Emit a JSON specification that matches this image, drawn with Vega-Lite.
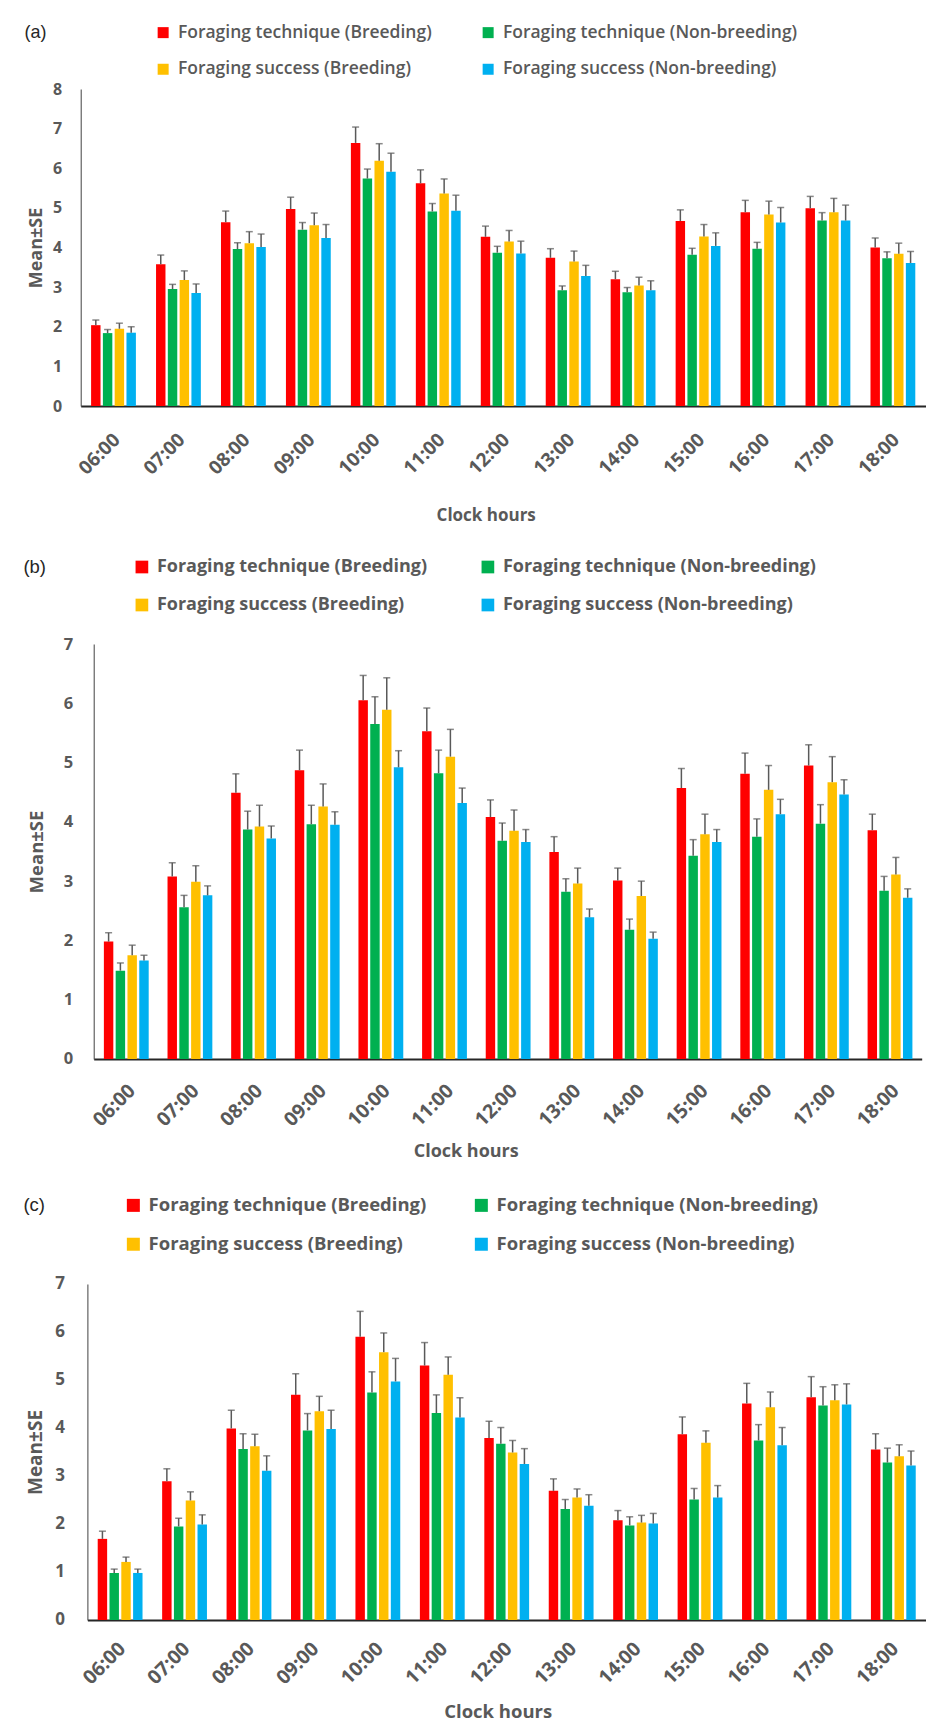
{
  "$schema": "https://vega.github.io/schema/vega-lite/v6.json",
  "background": "white",
  "padding": {"left": 22.7, "top": 23, "right": 0, "bottom": 0},
  "config": {
    "font": "Open Sans",
    "view": {"stroke": null},
    "axis": {"grid": false, "ticks": false, "labelColor": "#595959", "titleColor": "#595959", "labelFontWeight": "bold", "titleFontWeight": "bold", "labelOverlap": false},
    "axisX": {"domainColor": "#262626", "domainWidth": 1.8, "labelAngle": -45},
    "axisY": {"domainColor": "#404040", "domainWidth": 1},
    "legend": {"orient": "none", "columns": 2, "direction": "horizontal", "titleOrient": "left", "titleAnchor": "start", "titleBaseline": "top", "titleFont": "Liberation Sans", "titleFontWeight": "normal", "titleColor": "#262626", "labelColor": "#595959", "labelOffset": 6, "symbolType": "square", "symbolStrokeWidth": 0, "labelLimit": 500, "padding": 0}
  },
  "datasets": {
    "a": [
      {"hour":"06:00","series":"Foraging technique (Breeding)","mean":2.04,"upper":2.17},
      {"hour":"06:00","series":"Foraging technique (Non-breeding)","mean":1.84,"upper":1.93},
      {"hour":"06:00","series":"Foraging success (Breeding)","mean":1.95,"upper":2.09},
      {"hour":"06:00","series":"Foraging success (Non-breeding)","mean":1.85,"upper":2.00},
      {"hour":"07:00","series":"Foraging technique (Breeding)","mean":3.58,"upper":3.81},
      {"hour":"07:00","series":"Foraging technique (Non-breeding)","mean":2.95,"upper":3.07},
      {"hour":"07:00","series":"Foraging success (Breeding)","mean":3.18,"upper":3.41},
      {"hour":"07:00","series":"Foraging success (Non-breeding)","mean":2.85,"upper":3.08},
      {"hour":"08:00","series":"Foraging technique (Breeding)","mean":4.64,"upper":4.92},
      {"hour":"08:00","series":"Foraging technique (Non-breeding)","mean":3.96,"upper":4.12},
      {"hour":"08:00","series":"Foraging success (Breeding)","mean":4.11,"upper":4.40},
      {"hour":"08:00","series":"Foraging success (Non-breeding)","mean":4.01,"upper":4.34},
      {"hour":"09:00","series":"Foraging technique (Breeding)","mean":4.97,"upper":5.27},
      {"hour":"09:00","series":"Foraging technique (Non-breeding)","mean":4.45,"upper":4.63},
      {"hour":"09:00","series":"Foraging success (Breeding)","mean":4.56,"upper":4.87},
      {"hour":"09:00","series":"Foraging success (Non-breeding)","mean":4.24,"upper":4.58},
      {"hour":"10:00","series":"Foraging technique (Breeding)","mean":6.64,"upper":7.04},
      {"hour":"10:00","series":"Foraging technique (Non-breeding)","mean":5.74,"upper":5.98},
      {"hour":"10:00","series":"Foraging success (Breeding)","mean":6.19,"upper":6.62},
      {"hour":"10:00","series":"Foraging success (Non-breeding)","mean":5.91,"upper":6.38},
      {"hour":"11:00","series":"Foraging technique (Breeding)","mean":5.62,"upper":5.96},
      {"hour":"11:00","series":"Foraging technique (Non-breeding)","mean":4.91,"upper":5.11},
      {"hour":"11:00","series":"Foraging success (Breeding)","mean":5.36,"upper":5.73},
      {"hour":"11:00","series":"Foraging success (Non-breeding)","mean":4.93,"upper":5.32},
      {"hour":"12:00","series":"Foraging technique (Breeding)","mean":4.27,"upper":4.54},
      {"hour":"12:00","series":"Foraging technique (Non-breeding)","mean":3.87,"upper":4.03},
      {"hour":"12:00","series":"Foraging success (Breeding)","mean":4.15,"upper":4.43},
      {"hour":"12:00","series":"Foraging success (Non-breeding)","mean":3.85,"upper":4.16},
      {"hour":"13:00","series":"Foraging technique (Breeding)","mean":3.74,"upper":3.97},
      {"hour":"13:00","series":"Foraging technique (Non-breeding)","mean":2.92,"upper":3.03},
      {"hour":"13:00","series":"Foraging success (Breeding)","mean":3.65,"upper":3.91},
      {"hour":"13:00","series":"Foraging success (Non-breeding)","mean":3.28,"upper":3.55},
      {"hour":"14:00","series":"Foraging technique (Breeding)","mean":3.20,"upper":3.40},
      {"hour":"14:00","series":"Foraging technique (Non-breeding)","mean":2.87,"upper":2.99},
      {"hour":"14:00","series":"Foraging success (Breeding)","mean":3.04,"upper":3.25},
      {"hour":"14:00","series":"Foraging success (Non-breeding)","mean":2.92,"upper":3.16},
      {"hour":"15:00","series":"Foraging technique (Breeding)","mean":4.67,"upper":4.95},
      {"hour":"15:00","series":"Foraging technique (Non-breeding)","mean":3.82,"upper":3.98},
      {"hour":"15:00","series":"Foraging success (Breeding)","mean":4.28,"upper":4.58},
      {"hour":"15:00","series":"Foraging success (Non-breeding)","mean":4.04,"upper":4.37},
      {"hour":"16:00","series":"Foraging technique (Breeding)","mean":4.89,"upper":5.19},
      {"hour":"16:00","series":"Foraging technique (Non-breeding)","mean":3.97,"upper":4.13},
      {"hour":"16:00","series":"Foraging success (Breeding)","mean":4.83,"upper":5.17},
      {"hour":"16:00","series":"Foraging success (Non-breeding)","mean":4.63,"upper":5.01},
      {"hour":"17:00","series":"Foraging technique (Breeding)","mean":4.99,"upper":5.29},
      {"hour":"17:00","series":"Foraging technique (Non-breeding)","mean":4.68,"upper":4.88},
      {"hour":"17:00","series":"Foraging success (Breeding)","mean":4.89,"upper":5.24},
      {"hour":"17:00","series":"Foraging success (Non-breeding)","mean":4.68,"upper":5.07},
      {"hour":"18:00","series":"Foraging technique (Breeding)","mean":4.00,"upper":4.24},
      {"hour":"18:00","series":"Foraging technique (Non-breeding)","mean":3.73,"upper":3.89},
      {"hour":"18:00","series":"Foraging success (Breeding)","mean":3.84,"upper":4.11},
      {"hour":"18:00","series":"Foraging success (Non-breeding)","mean":3.61,"upper":3.90}
    ],
    "b": [
      {"hour":"06:00","series":"Foraging technique (Breeding)","mean":1.98,"upper":2.13},
      {"hour":"06:00","series":"Foraging technique (Non-breeding)","mean":1.49,"upper":1.62},
      {"hour":"06:00","series":"Foraging success (Breeding)","mean":1.75,"upper":1.92},
      {"hour":"06:00","series":"Foraging success (Non-breeding)","mean":1.66,"upper":1.75},
      {"hour":"07:00","series":"Foraging technique (Breeding)","mean":3.08,"upper":3.31},
      {"hour":"07:00","series":"Foraging technique (Non-breeding)","mean":2.56,"upper":2.76},
      {"hour":"07:00","series":"Foraging success (Breeding)","mean":2.99,"upper":3.26},
      {"hour":"07:00","series":"Foraging success (Non-breeding)","mean":2.76,"upper":2.92},
      {"hour":"08:00","series":"Foraging technique (Breeding)","mean":4.49,"upper":4.81},
      {"hour":"08:00","series":"Foraging technique (Non-breeding)","mean":3.87,"upper":4.18},
      {"hour":"08:00","series":"Foraging success (Breeding)","mean":3.92,"upper":4.28},
      {"hour":"08:00","series":"Foraging success (Non-breeding)","mean":3.72,"upper":3.93},
      {"hour":"09:00","series":"Foraging technique (Breeding)","mean":4.87,"upper":5.21},
      {"hour":"09:00","series":"Foraging technique (Non-breeding)","mean":3.96,"upper":4.28},
      {"hour":"09:00","series":"Foraging success (Breeding)","mean":4.26,"upper":4.64},
      {"hour":"09:00","series":"Foraging success (Non-breeding)","mean":3.95,"upper":4.17},
      {"hour":"10:00","series":"Foraging technique (Breeding)","mean":6.05,"upper":6.47},
      {"hour":"10:00","series":"Foraging technique (Non-breeding)","mean":5.65,"upper":6.11},
      {"hour":"10:00","series":"Foraging success (Breeding)","mean":5.89,"upper":6.43},
      {"hour":"10:00","series":"Foraging success (Non-breeding)","mean":4.92,"upper":5.20},
      {"hour":"11:00","series":"Foraging technique (Breeding)","mean":5.53,"upper":5.92},
      {"hour":"11:00","series":"Foraging technique (Non-breeding)","mean":4.82,"upper":5.21},
      {"hour":"11:00","series":"Foraging success (Breeding)","mean":5.10,"upper":5.56},
      {"hour":"11:00","series":"Foraging success (Non-breeding)","mean":4.32,"upper":4.57},
      {"hour":"12:00","series":"Foraging technique (Breeding)","mean":4.08,"upper":4.37},
      {"hour":"12:00","series":"Foraging technique (Non-breeding)","mean":3.68,"upper":3.98},
      {"hour":"12:00","series":"Foraging success (Breeding)","mean":3.85,"upper":4.20},
      {"hour":"12:00","series":"Foraging success (Non-breeding)","mean":3.66,"upper":3.87},
      {"hour":"13:00","series":"Foraging technique (Breeding)","mean":3.49,"upper":3.75},
      {"hour":"13:00","series":"Foraging technique (Non-breeding)","mean":2.82,"upper":3.04},
      {"hour":"13:00","series":"Foraging success (Breeding)","mean":2.96,"upper":3.22},
      {"hour":"13:00","series":"Foraging success (Non-breeding)","mean":2.39,"upper":2.53},
      {"hour":"14:00","series":"Foraging technique (Breeding)","mean":3.01,"upper":3.22},
      {"hour":"14:00","series":"Foraging technique (Non-breeding)","mean":2.18,"upper":2.36},
      {"hour":"14:00","series":"Foraging success (Breeding)","mean":2.75,"upper":3.00},
      {"hour":"14:00","series":"Foraging success (Non-breeding)","mean":2.03,"upper":2.14},
      {"hour":"15:00","series":"Foraging technique (Breeding)","mean":4.57,"upper":4.90},
      {"hour":"15:00","series":"Foraging technique (Non-breeding)","mean":3.43,"upper":3.70},
      {"hour":"15:00","series":"Foraging success (Breeding)","mean":3.79,"upper":4.13},
      {"hour":"15:00","series":"Foraging success (Non-breeding)","mean":3.66,"upper":3.87},
      {"hour":"16:00","series":"Foraging technique (Breeding)","mean":4.81,"upper":5.16},
      {"hour":"16:00","series":"Foraging technique (Non-breeding)","mean":3.75,"upper":4.05},
      {"hour":"16:00","series":"Foraging success (Breeding)","mean":4.54,"upper":4.95},
      {"hour":"16:00","series":"Foraging success (Non-breeding)","mean":4.13,"upper":4.38},
      {"hour":"17:00","series":"Foraging technique (Breeding)","mean":4.95,"upper":5.30},
      {"hour":"17:00","series":"Foraging technique (Non-breeding)","mean":3.97,"upper":4.29},
      {"hour":"17:00","series":"Foraging success (Breeding)","mean":4.67,"upper":5.10},
      {"hour":"17:00","series":"Foraging success (Non-breeding)","mean":4.46,"upper":4.71},
      {"hour":"18:00","series":"Foraging technique (Breeding)","mean":3.86,"upper":4.13},
      {"hour":"18:00","series":"Foraging technique (Non-breeding)","mean":2.84,"upper":3.08},
      {"hour":"18:00","series":"Foraging success (Breeding)","mean":3.11,"upper":3.40},
      {"hour":"18:00","series":"Foraging success (Non-breeding)","mean":2.72,"upper":2.87}
    ],
    "c": [
      {"hour":"06:00","series":"Foraging technique (Breeding)","mean":1.69,"upper":1.85},
      {"hour":"06:00","series":"Foraging technique (Non-breeding)","mean":0.98,"upper":1.06},
      {"hour":"06:00","series":"Foraging success (Breeding)","mean":1.21,"upper":1.31},
      {"hour":"06:00","series":"Foraging success (Non-breeding)","mean":0.98,"upper":1.06},
      {"hour":"07:00","series":"Foraging technique (Breeding)","mean":2.89,"upper":3.15},
      {"hour":"07:00","series":"Foraging technique (Non-breeding)","mean":1.95,"upper":2.12},
      {"hour":"07:00","series":"Foraging success (Breeding)","mean":2.49,"upper":2.67},
      {"hour":"07:00","series":"Foraging success (Non-breeding)","mean":1.99,"upper":2.19},
      {"hour":"08:00","series":"Foraging technique (Breeding)","mean":3.99,"upper":4.37},
      {"hour":"08:00","series":"Foraging technique (Non-breeding)","mean":3.56,"upper":3.88},
      {"hour":"08:00","series":"Foraging success (Breeding)","mean":3.62,"upper":3.87},
      {"hour":"08:00","series":"Foraging success (Non-breeding)","mean":3.11,"upper":3.42},
      {"hour":"09:00","series":"Foraging technique (Breeding)","mean":4.69,"upper":5.13},
      {"hour":"09:00","series":"Foraging technique (Non-breeding)","mean":3.95,"upper":4.30},
      {"hour":"09:00","series":"Foraging success (Breeding)","mean":4.35,"upper":4.66},
      {"hour":"09:00","series":"Foraging success (Non-breeding)","mean":3.98,"upper":4.37},
      {"hour":"10:00","series":"Foraging technique (Breeding)","mean":5.90,"upper":6.43},
      {"hour":"10:00","series":"Foraging technique (Non-breeding)","mean":4.74,"upper":5.17},
      {"hour":"10:00","series":"Foraging success (Breeding)","mean":5.58,"upper":5.98},
      {"hour":"10:00","series":"Foraging success (Non-breeding)","mean":4.97,"upper":5.45},
      {"hour":"11:00","series":"Foraging technique (Breeding)","mean":5.30,"upper":5.78},
      {"hour":"11:00","series":"Foraging technique (Non-breeding)","mean":4.31,"upper":4.69},
      {"hour":"11:00","series":"Foraging success (Breeding)","mean":5.11,"upper":5.48},
      {"hour":"11:00","series":"Foraging success (Non-breeding)","mean":4.22,"upper":4.63},
      {"hour":"12:00","series":"Foraging technique (Breeding)","mean":3.79,"upper":4.14},
      {"hour":"12:00","series":"Foraging technique (Non-breeding)","mean":3.67,"upper":4.01},
      {"hour":"12:00","series":"Foraging success (Breeding)","mean":3.49,"upper":3.74},
      {"hour":"12:00","series":"Foraging success (Non-breeding)","mean":3.25,"upper":3.57},
      {"hour":"13:00","series":"Foraging technique (Breeding)","mean":2.69,"upper":2.94},
      {"hour":"13:00","series":"Foraging technique (Non-breeding)","mean":2.31,"upper":2.51},
      {"hour":"13:00","series":"Foraging success (Breeding)","mean":2.55,"upper":2.73},
      {"hour":"13:00","series":"Foraging success (Non-breeding)","mean":2.38,"upper":2.61},
      {"hour":"14:00","series":"Foraging technique (Breeding)","mean":2.08,"upper":2.28},
      {"hour":"14:00","series":"Foraging technique (Non-breeding)","mean":1.97,"upper":2.15},
      {"hour":"14:00","series":"Foraging success (Breeding)","mean":2.03,"upper":2.18},
      {"hour":"14:00","series":"Foraging success (Non-breeding)","mean":2.01,"upper":2.22},
      {"hour":"15:00","series":"Foraging technique (Breeding)","mean":3.87,"upper":4.23},
      {"hour":"15:00","series":"Foraging technique (Non-breeding)","mean":2.51,"upper":2.74},
      {"hour":"15:00","series":"Foraging success (Breeding)","mean":3.69,"upper":3.94},
      {"hour":"15:00","series":"Foraging success (Non-breeding)","mean":2.55,"upper":2.80},
      {"hour":"16:00","series":"Foraging technique (Breeding)","mean":4.51,"upper":4.93},
      {"hour":"16:00","series":"Foraging technique (Non-breeding)","mean":3.74,"upper":4.07},
      {"hour":"16:00","series":"Foraging success (Breeding)","mean":4.43,"upper":4.75},
      {"hour":"16:00","series":"Foraging success (Non-breeding)","mean":3.64,"upper":4.01},
      {"hour":"17:00","series":"Foraging technique (Breeding)","mean":4.64,"upper":5.07},
      {"hour":"17:00","series":"Foraging technique (Non-breeding)","mean":4.47,"upper":4.86},
      {"hour":"17:00","series":"Foraging success (Breeding)","mean":4.58,"upper":4.90},
      {"hour":"17:00","series":"Foraging success (Non-breeding)","mean":4.49,"upper":4.92},
      {"hour":"18:00","series":"Foraging technique (Breeding)","mean":3.55,"upper":3.88},
      {"hour":"18:00","series":"Foraging technique (Non-breeding)","mean":3.28,"upper":3.58},
      {"hour":"18:00","series":"Foraging success (Breeding)","mean":3.41,"upper":3.65},
      {"hour":"18:00","series":"Foraging success (Non-breeding)","mean":3.22,"upper":3.52}
    ]
  },
  "columns": 1,
  "spacing": 35,
  "resolve": {"scale": {"color": "independent"}, "legend": {"color": "independent"}},
  "concat": [
    {
      "width": 845, "height": 317,
      "data": {"name": "a"},
      "encoding": {
        "x": {"field": "hour", "type": "nominal", "sort": null, "scale": {"paddingInner": 0.31, "paddingOuter": 0.16},
              "axis": {"title": "Clock hours", "labelFontSize": 19, "labelPadding": 24, "labelOffset": -3, "titleFontSize": 17, "titleX": 405, "titleY": 109, "titleBaseline": "middle"}},
        "xOffset": {"field": "series", "type": "nominal", "sort": null, "scale": {"paddingInner": 0.2}}
      },
      "layer": [
        {"mark": {"type": "bar"},
         "encoding": {
           "y": {"field": "mean", "type": "quantitative", "scale": {"domain": [0, 8], "nice": false},
                 "axis": {"title": "Mean±SE", "values": [0,1,2,3,4,5,6,7,8], "format": "d", "labelFontSize": 16, "labelPadding": 19, "titleFontSize": 18, "titleX": -44, "titleY": 158.5, "titleBaseline": "middle"}},
           "color": {"field": "series", "type": "nominal", "sort": null,
           "scale": {"domain": ["Foraging technique (Breeding)", "Foraging technique (Non-breeding)", "Foraging success (Breeding)", "Foraging success (Non-breeding)"], "range": ["#FF0000", "#00B050", "#FFC000", "#00B0F0"]},
           "legend": {"title": "(a)", "legendX": -56.3, "legendY": -65.5, "titlePadding": 108, "titleFontSize": 18, "labelFontSize": 17.5, "labelFontWeight": 600, "symbolSize": 121, "columnPadding": 47, "rowPadding": 18}}}},
        {"mark": {"type": "rule", "color": "#595959", "strokeWidth": 1.5},
         "encoding": {"y": {"field": "mean", "type": "quantitative", "axis": {"title": "Mean±SE", "values": [0,1,2,3,4,5,6,7,8], "format": "d", "labelFontSize": 16, "labelPadding": 19, "titleFontSize": 18, "titleX": -44, "titleY": 158.5, "titleBaseline": "middle"}}, "y2": {"field": "upper"}}},
        {"mark": {"type": "tick", "color": "#595959", "thickness": 1.5, "size": 7},
         "encoding": {"y": {"field": "upper", "type": "quantitative", "axis": {"title": "Mean±SE", "values": [0,1,2,3,4,5,6,7,8], "format": "d", "labelFontSize": 16, "labelPadding": 19, "titleFontSize": 18, "titleX": -44, "titleY": 158.5, "titleBaseline": "middle"}}}}
      ]
    },
    {
      "width": 841, "height": 415,
      "data": {"name": "b"},
      "encoding": {
        "x": {"field": "hour", "type": "nominal", "sort": null, "scale": {"paddingInner": 0.31, "paddingOuter": 0.16, "range": [13, 841]},
              "axis": {"title": "Clock hours", "labelFontSize": 19.5, "labelPadding": 22, "labelOffset": 0, "titleFontSize": 18, "titleX": 385, "titleY": 93, "titleBaseline": "middle"}},
        "xOffset": {"field": "series", "type": "nominal", "sort": null, "scale": {"paddingInner": 0.2}}
      },
      "layer": [
        {"mark": {"type": "bar"},
         "encoding": {
           "y": {"field": "mean", "type": "quantitative", "scale": {"domain": [0, 7], "nice": false},
                 "axis": {"offset": -13, "title": "Mean±SE", "values": [0,1,2,3,4,5,6,7], "format": "d", "labelFontSize": 16.5, "labelPadding": 21, "titleFontSize": 18.5, "titleX": -57, "titleY": 207.5, "titleBaseline": "middle"}},
           "color": {"field": "series", "type": "nominal", "sort": null,
           "scale": {"domain": ["Foraging technique (Breeding)", "Foraging technique (Non-breeding)", "Foraging success (Breeding)", "Foraging success (Non-breeding)"], "range": ["#FF0000", "#00B050", "#FFC000", "#00B0F0"]},
           "legend": {"title": "(b)", "legendX": -57.3, "legendY": -86, "titlePadding": 86.5, "titleFontSize": 18.5, "labelFontSize": 18, "labelFontWeight": "bold", "symbolSize": 161, "columnPadding": 51, "rowPadding": 20}}}},
        {"mark": {"type": "rule", "color": "#595959", "strokeWidth": 1.5},
         "encoding": {"y": {"field": "mean", "type": "quantitative", "axis": {"offset": -13, "title": "Mean±SE", "values": [0,1,2,3,4,5,6,7], "format": "d", "labelFontSize": 16.5, "labelPadding": 21, "titleFontSize": 18.5, "titleX": -57, "titleY": 207.5, "titleBaseline": "middle"}}, "y2": {"field": "upper"}}},
        {"mark": {"type": "tick", "color": "#595959", "thickness": 1.5, "size": 7},
         "encoding": {"y": {"field": "upper", "type": "quantitative", "axis": {"offset": -13, "title": "Mean±SE", "values": [0,1,2,3,4,5,6,7], "format": "d", "labelFontSize": 16.5, "labelPadding": 21, "titleFontSize": 18.5, "titleX": -57, "titleY": 207.5, "titleBaseline": "middle"}}}}
      ]
    },
    {
      "width": 845, "height": 336,
      "data": {"name": "c"},
      "encoding": {
        "x": {"field": "hour", "type": "nominal", "sort": null, "scale": {"paddingInner": 0.31, "paddingOuter": 0.16, "range": [6.7, 845]},
              "axis": {"title": "Clock hours", "labelFontSize": 19.5, "labelPadding": 19, "labelOffset": -4, "titleFontSize": 18.5, "titleX": 417, "titleY": 92, "titleBaseline": "middle"}},
        "xOffset": {"field": "series", "type": "nominal", "sort": null, "scale": {"paddingInner": 0.2}}
      },
      "layer": [
        {"mark": {"type": "bar"},
         "encoding": {
           "y": {"field": "mean", "type": "quantitative", "scale": {"domain": [0, 7], "nice": false},
                 "axis": {"offset": -6.7, "title": "Mean±SE", "values": [0,1,2,3,4,5,6,7], "format": "d", "labelFontSize": 17, "labelPadding": 23, "titleFontSize": 19, "titleX": -51.7, "titleY": 168, "titleBaseline": "middle"}},
           "color": {"field": "series", "type": "nominal", "sort": null,
           "scale": {"domain": ["Foraging technique (Breeding)", "Foraging technique (Non-breeding)", "Foraging success (Breeding)", "Foraging success (Non-breeding)"], "range": ["#FF0000", "#00B050", "#FFC000", "#00B0F0"]},
           "legend": {"title": "(c)", "legendX": -57.3, "legendY": -88, "titlePadding": 78.7, "titleFontSize": 18.5, "labelFontSize": 18.5, "labelFontWeight": "bold", "symbolSize": 169, "columnPadding": 45, "rowPadding": 20}}}},
        {"mark": {"type": "rule", "color": "#595959", "strokeWidth": 1.5},
         "encoding": {"y": {"field": "mean", "type": "quantitative", "axis": {"offset": -6.7, "title": "Mean±SE", "values": [0,1,2,3,4,5,6,7], "format": "d", "labelFontSize": 17, "labelPadding": 23, "titleFontSize": 19, "titleX": -51.7, "titleY": 168, "titleBaseline": "middle"}}, "y2": {"field": "upper"}}},
        {"mark": {"type": "tick", "color": "#595959", "thickness": 1.5, "size": 7},
         "encoding": {"y": {"field": "upper", "type": "quantitative", "axis": {"offset": -6.7, "title": "Mean±SE", "values": [0,1,2,3,4,5,6,7], "format": "d", "labelFontSize": 17, "labelPadding": 23, "titleFontSize": 19, "titleX": -51.7, "titleY": 168, "titleBaseline": "middle"}}}}
      ]
    }
  ]
}
